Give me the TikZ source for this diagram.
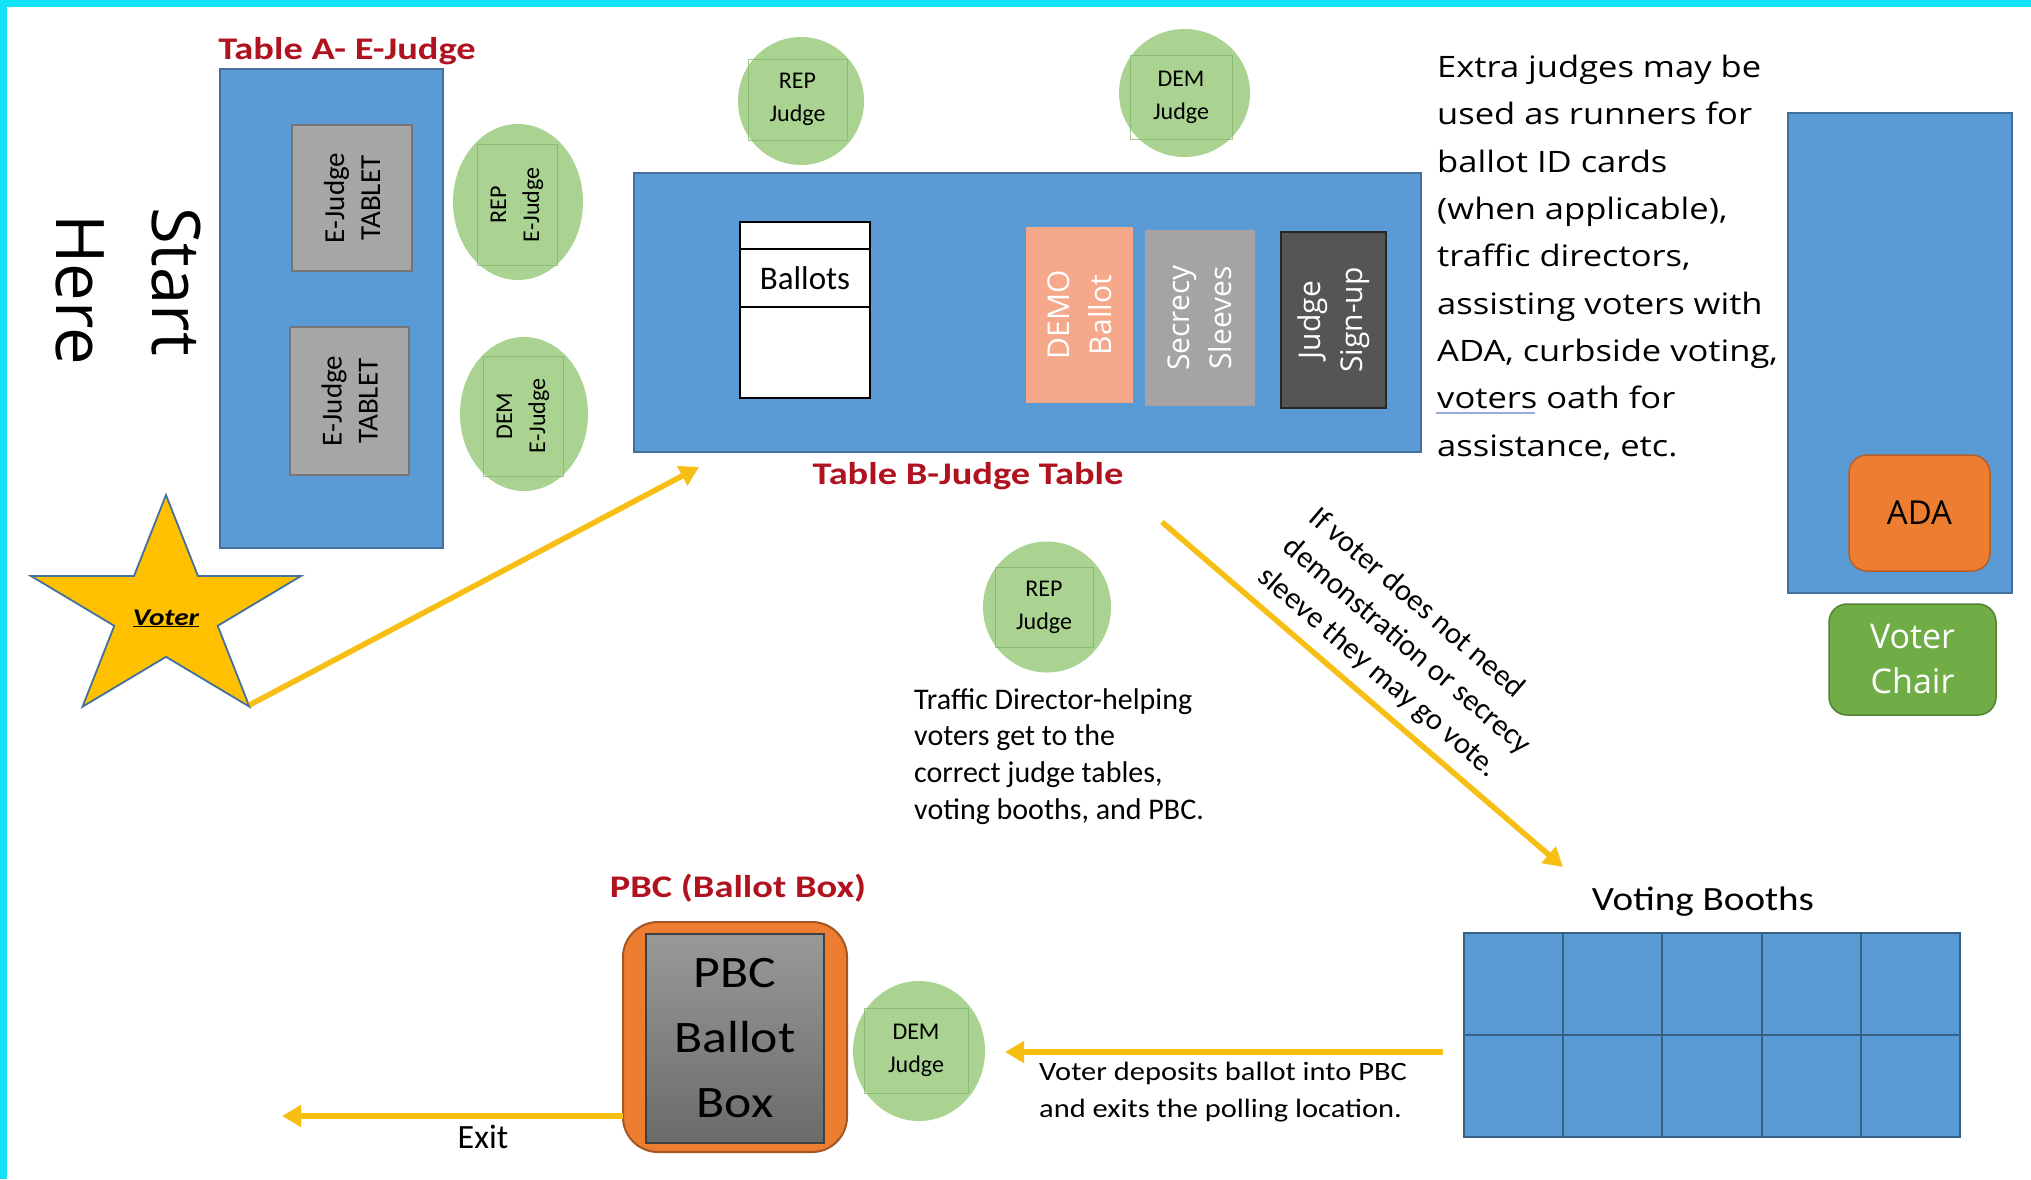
\documentclass[tikz,border=0pt]{standalone}
\usepackage{fontspec}
\usetikzlibrary{shapes.geometric,arrows.meta}
\newfontfamily\fCal{Carlito}
\newfontfamily\fCalS[FakeStretch=1.15]{Carlito}
\newfontfamily\fCalT[FakeStretch=1.22]{Carlito}
\newfontfamily\fOps{Open Sans}
\newfontfamily\fOpsS[FakeStretch=1.17]{Open Sans}
\newcommand\fsz[2]{\fontsize{#1pt}{#2pt}\selectfont}
\definecolor{cyanB}{RGB}{18,226,246}
\definecolor{tblue}{RGB}{91,155,213}
\definecolor{tblueD}{RGB}{65,113,156}
\definecolor{tgrey}{RGB}{166,166,166}
\definecolor{tgreyD}{RGB}{118,118,118}
\definecolor{jgreen}{RGB}{170,210,145}
\definecolor{jgreenD}{RGB}{130,176,104}
\definecolor{yarr}{RGB}{247,190,20}
\definecolor{starY}{RGB}{255,192,0}
\definecolor{redT}{RGB}{176,18,32}
\definecolor{adaO}{RGB}{237,125,49}
\definecolor{adaOD}{RGB}{180,95,40}
\definecolor{chairG}{RGB}{112,173,71}
\definecolor{chairGD}{RGB}{84,130,53}
\definecolor{demoC}{RGB}{245,168,138}
\definecolor{secG}{RGB}{166,163,164}
\definecolor{signG}{RGB}{85,85,85}
\definecolor{squig}{RGB}{150,172,214}
\begin{document}
\begin{tikzpicture}[x=1pt,y=-1pt,
  box/.style={rectangle,inner sep=0pt,outer sep=0pt},
  tbl/.style={box,fill=tblue,draw=tblueD,line width=1.5pt,anchor=north west},
  tablet/.style={box,fill=tgrey,draw=tgreyD,line width=1.2pt,align=center,font=\fCal\fsz{29}{36}},
  jcirc/.style={ellipse,inner sep=0pt,outer sep=0pt,fill=jgreen},
  jrect/.style={box,draw=jgreenD,draw opacity=0.7,line width=1pt,align=center,font=\fCal\fsz{24}{33}},
  title/.style={font=\fCalT\bfseries\fsz{31.5}{36},text=redT,inner sep=0pt,anchor=base},
  yarrow/.style={draw=yarr,line width=5.5pt,-{Triangle[length=19pt,width=21pt]}},
  txt/.style={inner sep=0pt,align=left},
  bcell/.style={box,fill=white,draw=black,line width=2.5pt,anchor=north west,minimum width=130pt},
  vbox/.style={box,rotate=90,minimum width=176pt,text=white,align=center,font=\fOps\fsz{30}{42}},
  booth/.style={box,fill=tblue,draw=tblueD!85!black,line width=2pt,anchor=north west,minimum width=99.2pt,minimum height=102pt}
]
\useasboundingbox (0,0) rectangle (2031,1179);
\fill[white] (0,0) rectangle (2031,1179);

% Start Here
\node[inner sep=0pt,rotate=-90,anchor=base west,font=\fOps\fsz{67}{80}] (start) at (152,207) {Start};
\node[inner sep=0pt,rotate=-90,anchor=base west,font=\fOps\fsz{67}{80}] (here) at (56,214) {Here};

% Table A
\node[tbl,minimum width=223pt,minimum height=479pt] (tA) at (220,69) {};
\node[title] (tAt) at (347,59) {Table A- E-Judge};
\node[tablet,rotate=90,minimum width=146pt,minimum height=120pt] (tab1) at (352,198) {E-Judge\\TABLET};
\node[tablet,rotate=90,minimum width=148pt,minimum height=119pt] (tab2) at (349.5,401) {E-Judge\\TABLET};

% E-Judges
\node[jcirc,minimum width=130pt,minimum height=156pt] (repE) at (518,202) {};
\node[jrect,rotate=90,minimum width=121pt,minimum height=80pt] (repEt) at (517,205) {REP\\E-Judge};
\node[jcirc,minimum width=128pt,minimum height=154pt] (demE) at (524,414) {};
\node[jrect,rotate=90,minimum width=120pt,minimum height=80pt] (demEt) at (523,416) {DEM\\E-Judge};

% Star voter
\filldraw[fill=starY,draw=tblueD,line width=1.8pt,line join=miter]
  (166,495) -- (198,576) -- (301,576) -- (217.7,625.8) -- (249.5,706.7) -- (166,656.8)
  -- (82.5,706.7) -- (114.3,625.8) -- (31,576) -- (134,576) -- cycle;
\coordinate (starTip) at (249.5,705);
\node[inner sep=0pt,anchor=base,font=\fCalT\bfseries\itshape\fsz{24}{28}] (voterT) at (166,625) {\underline{Voter}};

% Table B
\node[tbl,minimum width=787pt,minimum height=279pt] (tB) at (634,173) {};
\node[title] (tBt) at (968,484) {Table B-Judge Table};
\node[bcell,minimum height=27pt] (balTop) at (740,222) {};
\node[bcell,minimum height=58pt,font=\fCal\fsz{33}{38}] (balMid) at (740,249) {Ballots};
\node[bcell,minimum height=91pt] (balBot) at (740,307) {};
\node[vbox,minimum height=107pt,fill=demoC] (demo) at (1079.5,315) {DEMO\\Ballot};
\node[vbox,minimum height=110pt,fill=secG] (sec) at (1200,318) {Secrecy\\Sleeves};
\node[vbox,minimum height=105pt,fill=signG,draw=black!85,line width=1.5pt] (sign) at (1333.5,320) {Judge\\Sign-up};

% Table B judges
\node[jcirc,minimum width=126pt,minimum height=128pt] (repJ) at (801,101) {};
\node[jrect,minimum width=99pt,minimum height=81pt] (repJt) at (797.5,99.5) {REP\\Judge};
\node[jcirc,minimum width=131pt,minimum height=128pt] (demJ) at (1184.5,93) {};
\node[jrect,minimum width=102pt,minimum height=84pt] (demJt) at (1181,97) {DEM\\Judge};

% Arrow voter -> table B
\coordinate (a1e) at (699,467);
\draw[yarrow] (starTip) -- (a1e);

% Extra judges text
\node[txt,anchor=north west,font=\fOpsS\fsz{29.5}{47.3}] (extra) at (1437,55)
  {Extra judges may be\\used as runners for\\ballot ID cards\\(when applicable),\\traffic directors,\\assisting voters with\\ADA, curbside voting,\\voters oath for\\assistance, etc.};
\draw[squig,line width=1.5pt] (1436,413) -- (1535,413);

% ADA area
\node[tbl,minimum width=224pt,minimum height=480pt] (adaT) at (1788,113) {};
\node[box,rounded corners=18pt,fill=adaO,draw=adaOD,line width=1.5pt,minimum width=141pt,minimum height=116pt,font=\fOps\fsz{33}{40}] (ada) at (1919.5,513) {ADA};
\node[box,rounded corners=18pt,fill=chairG,draw=chairGD,line width=1.5pt,minimum width=167pt,minimum height=111pt,text=white,align=center,font=\fOps\fsz{34}{45}] (chair) at (1912.5,659.5) {Voter\\Chair};

% Traffic director
\node[jcirc,minimum width=128pt,minimum height=131pt] (repM) at (1047,607) {};
\node[jrect,minimum width=98pt,minimum height=80pt] (repMt) at (1044,607) {REP\\Judge};
\node[txt,anchor=north west,font=\fCal\fsz{30}{36.7}] (traffic) at (914,688)
  {Traffic Director-helping\\voters get to the\\correct judge tables,\\voting booths, and PBC.};

% Arrow table B -> booths
\coordinate (a2s) at (1162,522);
\coordinate (a2e) at (1563,867);
\draw[yarrow] (a2s) -- (a2e);
\node[txt,rotate=-40.6,anchor=north west,font=\fCal\fsz{30.5}{39}] (ifv) at (1321,504)
  {If voter does not need\\demonstration or secrecy\\sleeve they may go vote.};

% Voting booths
\node[inner sep=0pt,anchor=base,font=\fCalS\fsz{34}{40}] (vbT) at (1703,910) {Voting Booths};
\foreach \i in {0,...,4}{
  \foreach \j in {0,1}{
    \node[booth] (vb-\i-\j) at ({1464+99.2*\i},{933+102*\j}) {};
  }
}

% Arrow booths -> PBC
\coordinate (a3s) at (1443,1052);
\coordinate (a3e) at (1005,1052);
\draw[yarrow] (a3s) -- (a3e);
\node[txt,anchor=north west,font=\fCalS\fsz{26.5}{37}] (dep) at (1039,1062)
  {Voter deposits ballot into PBC\\and exits the polling location.};

% PBC
\node[title] (pbcT) at (738,897) {PBC (Ballot Box)};
\node[box,rounded corners=35pt,fill=adaO,draw=adaOD!90!black,line width=2pt,minimum width=224pt,minimum height=230pt] (pbcOut) at (735,1037) {};
\node[box,top color=black!40,bottom color=black!58,draw=black!75,line width=2pt,minimum width=178pt,minimum height=209pt,align=center,font=\fCalS\fsz{45}{65}] (pbcIn) at (735,1038.5) {PBC\\Ballot\\Box};
\node[jcirc,minimum width=132pt,minimum height=140pt] (demB) at (919,1051) {};
\node[jrect,minimum width=104pt,minimum height=85pt] (demBt) at (916,1050.5) {DEM\\Judge};

% Exit
\coordinate (exS) at (623,1116);
\coordinate (exE) at (282,1116);
\draw[yarrow] (exS) -- (exE);
\node[inner sep=0pt,anchor=base,font=\fCal\fsz{34}{40}] (exitT) at (483,1148) {Exit};

% cyan frame
\fill[cyanB] (0,0) rectangle (2031,7);
\fill[cyanB] (0,0) rectangle (7,1179);
\end{tikzpicture}
\end{document}
